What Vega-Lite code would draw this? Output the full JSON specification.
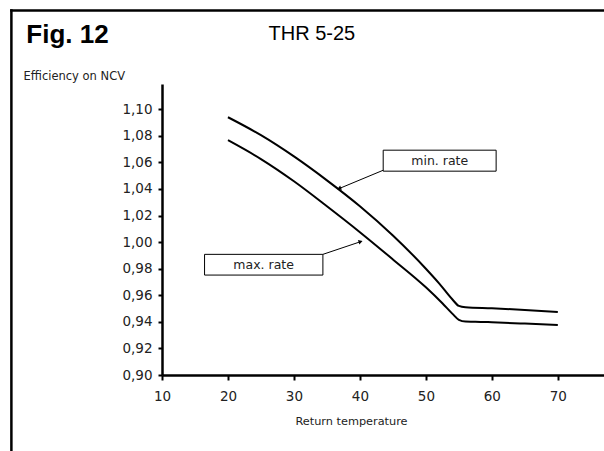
{
  "$schema": "https://vega.github.io/schema/vega-lite/v6.json",
  "width": 442,
  "height": 291,
  "autosize": {"type": "none"},
  "padding": {"left": 162, "top": 84, "right": 0, "bottom": 76},
  "background": "white",
  "config": {"view": {"stroke": null}},
  "resolve": {"axis": {"x": "independent", "y": "independent"}},
  "layer": [
    {
      "data": {"values": [
        {"series": "min. rate", "t": 20, "eff": 1.094},
        {"series": "min. rate", "t": 25, "eff": 1.0805},
        {"series": "min. rate", "t": 30, "eff": 1.0645},
        {"series": "min. rate", "t": 35, "eff": 1.0465},
        {"series": "min. rate", "t": 40, "eff": 1.027},
        {"series": "min. rate", "t": 45, "eff": 1.005},
        {"series": "min. rate", "t": 50, "eff": 0.980},
        {"series": "min. rate", "t": 52, "eff": 0.969},
        {"series": "min. rate", "t": 54, "eff": 0.957},
        {"series": "min. rate", "t": 55, "eff": 0.952},
        {"series": "min. rate", "t": 56, "eff": 0.951},
        {"series": "min. rate", "t": 60, "eff": 0.9502},
        {"series": "min. rate", "t": 65, "eff": 0.949},
        {"series": "min. rate", "t": 70, "eff": 0.9474},
        {"series": "max. rate", "t": 20, "eff": 1.0767},
        {"series": "max. rate", "t": 25, "eff": 1.0625},
        {"series": "max. rate", "t": 30, "eff": 1.0458},
        {"series": "max. rate", "t": 35, "eff": 1.027},
        {"series": "max. rate", "t": 40, "eff": 1.0075},
        {"series": "max. rate", "t": 45, "eff": 0.987},
        {"series": "max. rate", "t": 50, "eff": 0.966},
        {"series": "max. rate", "t": 52.5, "eff": 0.954},
        {"series": "max. rate", "t": 54, "eff": 0.9462},
        {"series": "max. rate", "t": 55, "eff": 0.9415},
        {"series": "max. rate", "t": 56, "eff": 0.9402},
        {"series": "max. rate", "t": 57.5, "eff": 0.9401},
        {"series": "max. rate", "t": 60, "eff": 0.9397},
        {"series": "max. rate", "t": 65, "eff": 0.9387},
        {"series": "max. rate", "t": 70, "eff": 0.9376}
      ]},
      "mark": {"type": "line", "color": "black", "strokeWidth": 2, "interpolate": "monotone"},
      "encoding": {
        "x": {
          "field": "t", "type": "quantitative",
          "scale": {"domain": [10, 77], "nice": false, "zero": false},
          "axis": {
            "values": [10, 20, 30, 40, 50, 60, 70],
            "grid": false,
            "labelOverlap": false, "labelFlush": false, "labelBound": false,
            "domainColor": "black", "domainWidth": 2.5,
            "tickColor": "black", "tickWidth": 2, "tickSize": 5,
            "labelFont": "DejaVu Sans", "labelFontSize": 13.5, "labelColor": "#222",
            "labelPadding": 9,
            "title": "Return temperature",
            "titleFont": "DejaVu Sans", "titleFontSize": 11.3, "titleFontWeight": "normal", "titleColor": "#222",
            "titleX": 189, "titleY": 49, "titleAlign": "center", "titleBaseline": "alphabetic"
          }
        },
        "y": {
          "field": "eff", "type": "quantitative",
          "scale": {"domain": [0.9, 1.119], "nice": false, "zero": false},
          "axis": {
            "values": [0.9, 0.92, 0.94, 0.96, 0.98, 1.0, 1.02, 1.04, 1.06, 1.08, 1.1],
            "labelExpr": "replace(format(datum.value, '.2f'), '.', ',')",
            "grid": false,
            "labelOverlap": false, "labelFlush": false, "labelBound": false,
            "domainColor": "black", "domainWidth": 2.5,
            "tickColor": "black", "tickWidth": 2, "tickSize": 4,
            "labelFont": "DejaVu Sans", "labelFontSize": 13.5, "labelColor": "#222",
            "labelPadding": 6,
            "title": "Efficiency on NCV",
            "titleFont": "DejaVu Sans", "titleFontSize": 11.5, "titleFontWeight": "normal", "titleColor": "#222",
            "titleAngle": 0, "titleX": -139, "titleY": -5, "titleAlign": "left", "titleBaseline": "alphabetic"
          }
        },
        "detail": {"field": "series"}
      }
    },
    {
      "data": {"values": [{}]},
      "mark": {"type": "rule", "color": "black", "strokeWidth": 2.5, "strokeCap": "square"},
      "encoding": {
        "x": {"datum": -12.83, "type": "quantitative", "scale": {"domain": [10, 77], "nice": false, "zero": false}, "axis": null},
        "x2": {"datum": 80},
        "y": {"datum": 1.1744, "type": "quantitative", "scale": {"domain": [0.9, 1.119], "nice": false, "zero": false}, "axis": null}
      }
    },
    {
      "data": {"values": [{}]},
      "mark": {"type": "rule", "color": "black", "strokeWidth": 2.5, "strokeCap": "square"},
      "encoding": {
        "x": {"datum": -12.83, "type": "quantitative", "scale": {"domain": [10, 77], "nice": false, "zero": false}, "axis": null},
        "y": {"datum": 1.1744, "type": "quantitative", "scale": {"domain": [0.9, 1.119], "nice": false, "zero": false}, "axis": null},
        "y2": {"datum": 0.83}
      }
    },
    {
      "data": {"values": [{}]},
      "mark": {"type": "rect", "fill": "white", "stroke": "black", "strokeWidth": 1},
      "encoding": {
        "x": {"datum": 43.53, "type": "quantitative", "scale": {"domain": [10, 77], "nice": false, "zero": false}, "axis": null},
        "x2": {"datum": 60.65},
        "y": {"datum": 1.0692, "type": "quantitative", "scale": {"domain": [0.9, 1.119], "nice": false, "zero": false}, "axis": null},
        "y2": {"datum": 1.0534}
      }
    },
    {
      "data": {"values": [{}]},
      "mark": {"type": "text", "text": "min. rate", "font": "DejaVu Sans", "fontSize": 12.5, "color": "#222", "align": "center", "baseline": "middle"},
      "encoding": {
        "x": {"datum": 52.1, "type": "quantitative", "scale": {"domain": [10, 77], "nice": false, "zero": false}, "axis": null},
        "y": {"datum": 1.0611, "type": "quantitative", "scale": {"domain": [0.9, 1.119], "nice": false, "zero": false}, "axis": null}
      }
    },
    {
      "data": {"values": [{}]},
      "mark": {"type": "rule", "color": "black", "strokeWidth": 1},
      "encoding": {
        "x": {"datum": 43.53, "type": "quantitative", "scale": {"domain": [10, 77], "nice": false, "zero": false}, "axis": null},
        "x2": {"datum": 36.8},
        "y": {"datum": 1.0541, "type": "quantitative", "scale": {"domain": [0.9, 1.119], "nice": false, "zero": false}, "axis": null},
        "y2": {"datum": 1.0402}
      }
    },
    {
      "data": {"values": [{}]},
      "mark": {"type": "point", "shape": "triangle-right", "filled": true, "color": "black", "size": 22, "angle": 157.6, "opacity": 1},
      "encoding": {
        "x": {"datum": 36.85, "type": "quantitative", "scale": {"domain": [10, 77], "nice": false, "zero": false}, "axis": null},
        "y": {"datum": 1.0404, "type": "quantitative", "scale": {"domain": [0.9, 1.119], "nice": false, "zero": false}, "axis": null}
      }
    },
    {
      "data": {"values": [{}]},
      "mark": {"type": "rect", "fill": "white", "stroke": "black", "strokeWidth": 1},
      "encoding": {
        "x": {"datum": 16.45, "type": "quantitative", "scale": {"domain": [10, 77], "nice": false, "zero": false}, "axis": null},
        "x2": {"datum": 34.39},
        "y": {"datum": 0.9908, "type": "quantitative", "scale": {"domain": [0.9, 1.119], "nice": false, "zero": false}, "axis": null},
        "y2": {"datum": 0.9752}
      }
    },
    {
      "data": {"values": [{}]},
      "mark": {"type": "text", "text": "max. rate", "font": "DejaVu Sans", "fontSize": 12.5, "color": "#222", "align": "center", "baseline": "middle"},
      "encoding": {
        "x": {"datum": 25.4, "type": "quantitative", "scale": {"domain": [10, 77], "nice": false, "zero": false}, "axis": null},
        "y": {"datum": 0.9829, "type": "quantitative", "scale": {"domain": [0.9, 1.119], "nice": false, "zero": false}, "axis": null}
      }
    },
    {
      "data": {"values": [{}]},
      "mark": {"type": "rule", "color": "black", "strokeWidth": 1},
      "encoding": {
        "x": {"datum": 34.39, "type": "quantitative", "scale": {"domain": [10, 77], "nice": false, "zero": false}, "axis": null},
        "x2": {"datum": 40.2},
        "y": {"datum": 0.9908, "type": "quantitative", "scale": {"domain": [0.9, 1.119], "nice": false, "zero": false}, "axis": null},
        "y2": {"datum": 1.0005}
      }
    },
    {
      "data": {"values": [{}]},
      "mark": {"type": "point", "shape": "triangle-right", "filled": true, "color": "black", "size": 22, "angle": 341.6, "opacity": 1},
      "encoding": {
        "x": {"datum": 40.1, "type": "quantitative", "scale": {"domain": [10, 77], "nice": false, "zero": false}, "axis": null},
        "y": {"datum": 1.0004, "type": "quantitative", "scale": {"domain": [0.9, 1.119], "nice": false, "zero": false}, "axis": null}
      }
    },
    {
      "data": {"values": [{}]},
      "mark": {"type": "text", "text": "Fig. 12", "font": "Liberation Sans", "fontSize": 26, "fontWeight": "bold", "color": "black", "align": "left", "baseline": "alphabetic"},
      "encoding": {
        "x": {"datum": -10.56, "type": "quantitative", "scale": {"domain": [10, 77], "nice": false, "zero": false}, "axis": null},
        "y": {"datum": 1.1502, "type": "quantitative", "scale": {"domain": [0.9, 1.119], "nice": false, "zero": false}, "axis": null}
      }
    },
    {
      "data": {"values": [{}]},
      "mark": {"type": "text", "text": "THR 5-25", "font": "Liberation Sans", "fontSize": 20, "color": "black", "align": "left", "baseline": "alphabetic"},
      "encoding": {
        "x": {"datum": 26.15, "type": "quantitative", "scale": {"domain": [10, 77], "nice": false, "zero": false}, "axis": null},
        "y": {"datum": 1.1524, "type": "quantitative", "scale": {"domain": [0.9, 1.119], "nice": false, "zero": false}, "axis": null}
      }
    }
  ]
}
